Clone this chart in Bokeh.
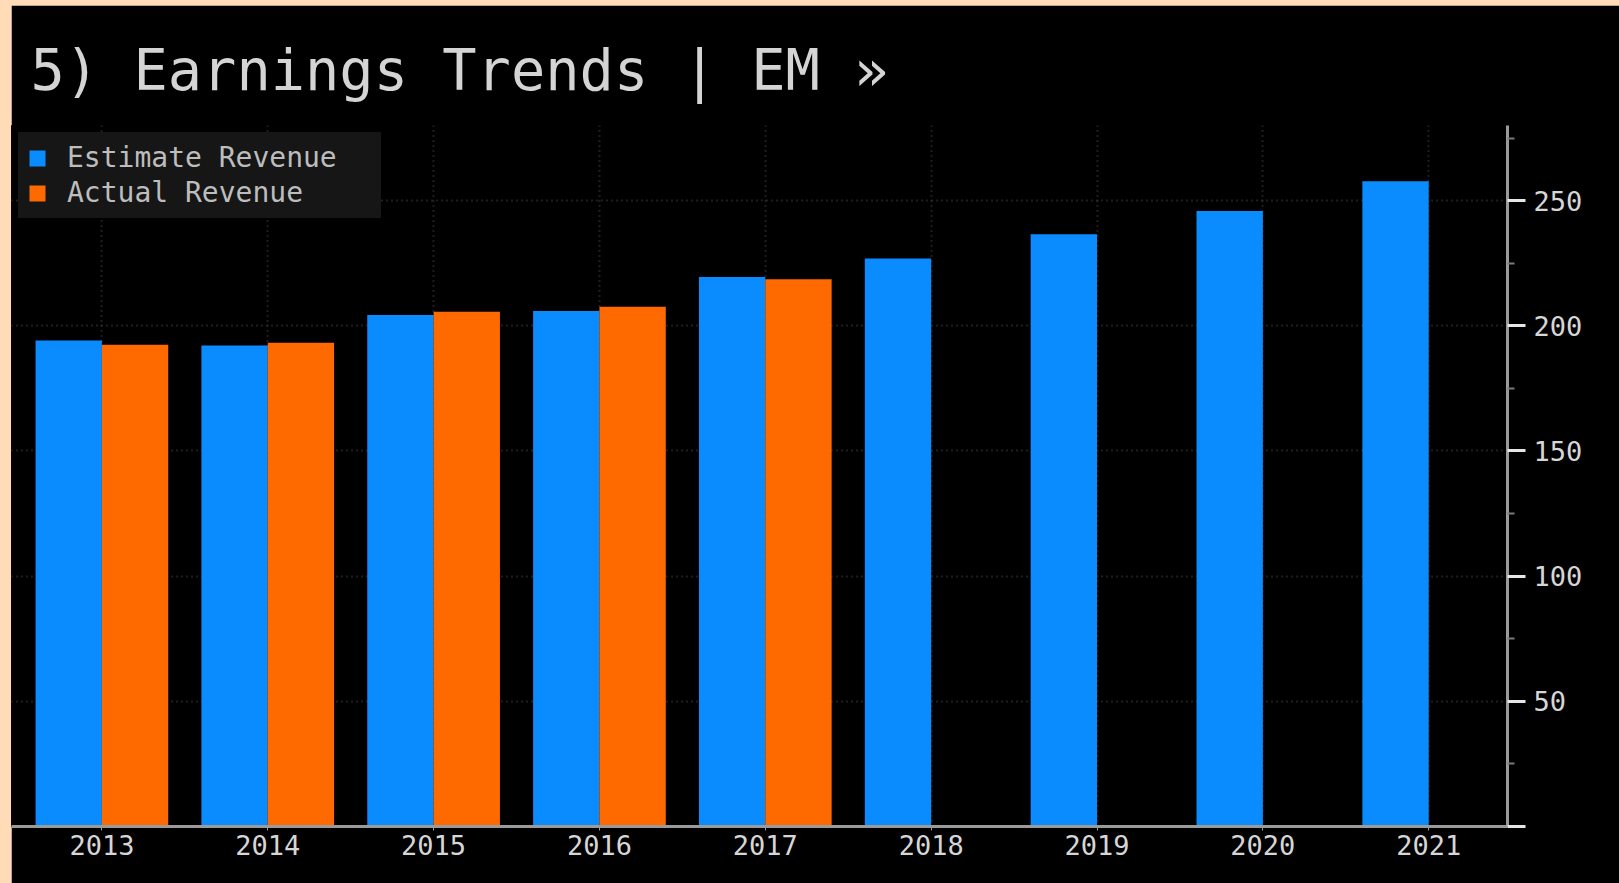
from bokeh.plotting import figure
from bokeh.models import ColumnDataSource, Range1d, FixedTicker, Legend
from bokeh.transform import dodge
from bokeh.embed import file_html
from bokeh.resources import INLINE

# ---- data ----
years = ["2013", "2014", "2015", "2016", "2017", "2018", "2019", "2020", "2021"]
estimate_revenue = [194.1, 192.1, 204.3, 205.9, 219.5, 226.9, 236.6, 245.8, 257.7]
actual_years = ["2013", "2014", "2015", "2016", "2017"]
actual_revenue = [192.4, 193.2, 205.6, 207.6, 218.6]
y_ticks = [0, 50, 100, 150, 200, 250]

BLUE = "#0A8CFF"
ORANGE = "#FF6A00"
TXT = "#D6D6D6"
MONO = "DejaVu Sans Mono"
AXIS = "#9A9A9A"
LEGEND_BG = "#161616"

est_src = ColumnDataSource(dict(x=list(range(len(years))), v=estimate_revenue))
act_src = ColumnDataSource(dict(x=[years.index(y) for y in actual_years], v=actual_revenue))

p = figure(width=1608, height=878, output_backend="svg", toolbar_location=None,
           x_range=Range1d(-0.545, 8.475), y_range=Range1d(0, 280),
           y_axis_location="right", min_border_left=0, min_border_right=112,
           min_border_top=120, min_border_bottom=57,
           background_fill_color="#000000", border_fill_color="#000000",
           title="5) Earnings Trends | EM \u00bb")
p.outline_line_color = "#000000"
p.outline_line_alpha = 1.0
p.outline_line_width = 1

p.title.text_font = MONO
p.title.text_font_size = "57px"
p.title.text_font_style = "normal"
p.title.text_color = "#D4D4D4"
p.title.offset = 19
p.title.standoff = 46

r1 = p.vbar(x=dodge("x", -0.2, range=p.x_range), top="v", width=0.4, source=est_src,
            fill_color=BLUE, line_color=None)
r2 = p.vbar(x=dodge("x", 0.2, range=p.x_range), top="v", width=0.4, source=act_src,
            fill_color=ORANGE, line_color=None)

legend = Legend(items=[("Estimate Revenue", [r1]), ("Actual Revenue", [r2])],
                location="top_left")
legend.margin = 7
legend.padding = 8
legend.spacing = 2
legend.glyph_width = 20
legend.glyph_height = 20
legend.label_standoff = 20
legend.label_width = 305
legend.label_text_font = MONO
legend.label_text_font_size = "28px"
legend.label_text_color = "#BDBDBD"
legend.background_fill_color = LEGEND_BG
legend.background_fill_alpha = 1.0
legend.border_line_color = LEGEND_BG
legend.border_line_width = 1
p.add_layout(legend)

# x axis
p.xaxis.ticker = FixedTicker(ticks=list(range(len(years))))
p.xaxis.major_label_overrides = {i: y for i, y in enumerate(years)}
p.xaxis.axis_line_color = AXIS
p.xaxis.axis_line_width = 3
p.xaxis.major_tick_in = 0
p.xaxis.major_tick_out = 4
p.xaxis.major_tick_line_color = AXIS
p.xaxis.minor_tick_line_color = None
p.xaxis.major_label_text_font = MONO
p.xaxis.major_label_text_font_size = "27px"
p.xaxis.major_label_text_color = TXT
p.xaxis.major_label_standoff = 4

# y axis (right)
p.yaxis.ticker = FixedTicker(ticks=y_ticks, minor_ticks=[25, 75, 125, 175, 225, 275])
p.yaxis.axis_line_color = AXIS
p.yaxis.axis_line_width = 3
p.yaxis.major_tick_in = 0
p.yaxis.major_tick_out = 18
p.yaxis.major_tick_line_width = 3
p.yaxis.major_tick_line_color = "#E6E6E6"
p.yaxis.minor_tick_in = 0
p.yaxis.minor_tick_out = 7
p.yaxis.minor_tick_line_width = 2
p.yaxis.minor_tick_line_color = "#7A7A7A"
p.yaxis.major_label_text_font = MONO
p.yaxis.major_label_text_font_size = "27px"
p.yaxis.major_label_text_color = TXT
p.yaxis.major_label_standoff = 8
p.yaxis.major_label_overrides = {0: ""}

# grids
p.xgrid.ticker = FixedTicker(ticks=list(range(len(years))))
p.xgrid.grid_line_color = "#3C3C3C"
p.xgrid.grid_line_dash = "1 4"
p.xgrid.grid_line_width = 2
p.ygrid.ticker = FixedTicker(ticks=[50, 100, 150, 200, 250])
p.ygrid.grid_line_color = "#3C3C3C"
p.ygrid.grid_line_dash = "1 4"
p.ygrid.grid_line_width = 2

html = file_html(p, INLINE, title="Earnings Trends | EM")
page_style = ("<style>html,body{background-color:#FFDBB8 !important;}"
              "body{margin:5px 0 0 11px !important; overflow:hidden;}</style>")
html = html.replace("</head>", page_style + "</head>", 1)
open("out.html", "w").write(html)
